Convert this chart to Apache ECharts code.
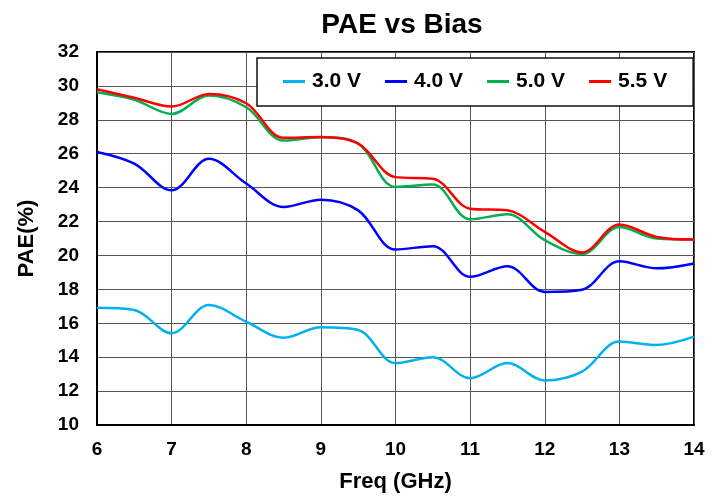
<!DOCTYPE html>
<html>
<head>
<meta charset="utf-8">
<script src="https://cdn.jsdelivr.net/npm/echarts@6/dist/echarts.min.js"></script>
<style>
  html, body { margin: 0; padding: 0; background: #fff; }
  #chart { width: 723px; height: 499px; }
</style>
</head>
<body>
<div id="chart"></div>
<script>
// frequency points (GHz)
const freqs = [6, 6.5, 7, 7.5, 8, 8.5, 9, 9.5, 10, 10.5, 11, 11.5, 12, 12.5, 13, 13.5, 14]

// PAE (%) per bias voltage
const pae30 = [16.92, 16.78, 15.41, 17.08, 16.09, 15.15, 15.76, 15.6, 13.65, 14.0, 12.76, 13.65, 12.63, 13.15, 14.92, 14.72, 15.21]
const pae40 = [26.1, 25.41, 23.84, 25.7, 24.24, 22.86, 23.29, 22.66, 20.35, 20.55, 18.74, 19.37, 17.85, 17.98, 19.66, 19.24, 19.53]
const pae50 = [29.62, 29.18, 28.35, 29.43, 28.74, 26.78, 26.97, 26.6, 24.04, 24.18, 22.13, 22.43, 20.9, 20.08, 21.68, 21.0, 20.94]
const pae55 = [29.8, 29.3, 28.78, 29.53, 28.98, 26.94, 26.98, 26.59, 24.62, 24.53, 22.76, 22.66, 21.39, 20.18, 21.82, 21.09, 20.94]

const seriesNames = ['3.0 V', '4.0 V', '5.0 V', '5.5 V']
const seriesColors = ['#00B0F0', '#0000FF', '#00B050', '#FF0000']
const seriesData = [pae30, pae40, pae50, pae55]

const font = "'Liberation Sans', Arial, sans-serif"

const chart = echarts.init(document.getElementById('chart'))

const option = {
  animation: false,
  backgroundColor: '#fff',
  title: {
    text: 'PAE vs Bias',
    left: 397,
    textAlign: 'center',
    top: 6,
    textStyle: { fontFamily: font, fontSize: 28, fontWeight: 'bold', color: '#000' }
  },
  legend: {
    data: seriesNames,
    left: 257,
    top: 58,
    orient: 'horizontal',
    icon: 'rect',
    itemWidth: 22,
    itemHeight: 3,
    itemGap: 24,
    padding: [13, 26, 14, 26],
    backgroundColor: '#fff',
    borderColor: '#111',
    borderWidth: 1.5,
    borderRadius: 0,
    textStyle: { fontFamily: font, fontSize: 21, fontWeight: 'bold', color: '#000', padding: [0, 0, 0, 2] }
  },
  grid: {
    left: 97,
    right: 29,
    top: 52,
    bottom: 74,
    show: true,
    borderColor: '#000',
    borderWidth: 2
  },
  xAxis: {
    type: 'value',
    min: 6,
    max: 14,
    interval: 1,
    name: 'Freq (GHz)',
    nameLocation: 'middle',
    nameGap: 46,
    nameTextStyle: { fontFamily: font, fontSize: 22, fontWeight: 'bold', color: '#000' },
    axisLine: { show: true, lineStyle: { color: '#000', width: 2 } },
    axisTick: { show: false },
    axisLabel: { fontFamily: font, fontSize: 19, fontWeight: 'bold', color: '#000', margin: 15 },
    splitLine: { show: true, lineStyle: { color: '#555', width: 1 } }
  },
  yAxis: {
    type: 'value',
    min: 10,
    max: 32,
    interval: 2,
    name: 'PAE(%)',
    nameLocation: 'middle',
    nameGap: 59,
    nameTextStyle: { fontFamily: font, fontSize: 22, fontWeight: 'bold', color: '#000' },
    axisLine: { show: true, lineStyle: { color: '#000', width: 2 } },
    axisTick: { show: false },
    axisLabel: { fontFamily: font, fontSize: 19, fontWeight: 'bold', color: '#000', margin: 18 },
    splitLine: { show: true, lineStyle: { color: '#555', width: 1 } }
  },
  series: seriesNames.map((name, i) => ({
    name: name,
    type: 'line',
    smooth: 0.35,
    showSymbol: false,
    symbol: 'none',
    color: seriesColors[i],
    lineStyle: { color: seriesColors[i], width: 2.5 },
    data: freqs.map((f, j) => [f, seriesData[i][j]])
  }))
}

chart.setOption(option)
</script>
</body>
</html>
